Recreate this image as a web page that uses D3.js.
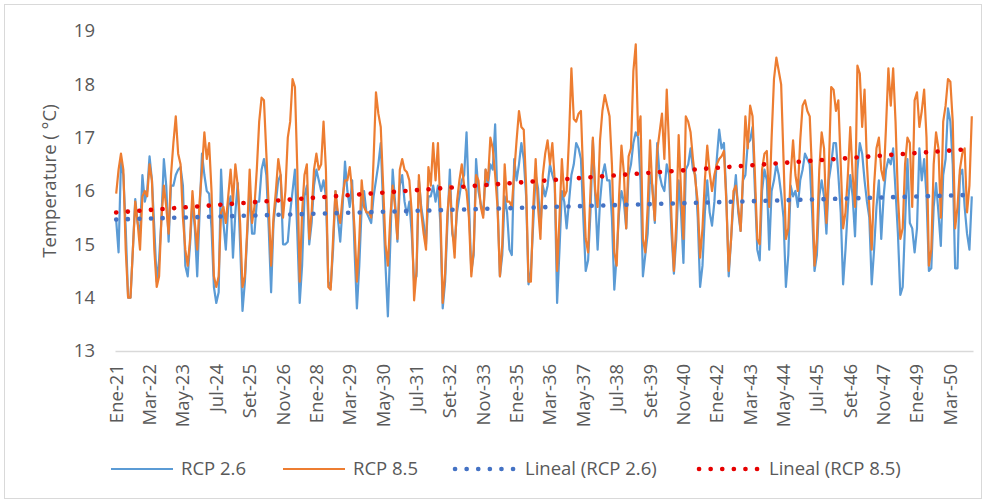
<!DOCTYPE html>
<html lang="en">
  <head>
    <meta charset="UTF-8" />
    <title>Temperature RCP</title>
    <script src="https://d3js.org/d3.v7.min.js"></script>
    <style>
      body { margin: 0; background: #fff; }
      svg { display: block; font-family: "Open Sans", sans-serif; }
    </style>
  </head>
  <body>
    <svg></svg>
    <script>
      // monthly values, Ene-21 ... Dic-50 (12 per row)
      let rcp26 = [
        15.45,14.85,16.55,16.3,15.3,14.0,14.0,14.9,15.85,15.4,15.2,16.3,
        15.8,16.0,16.65,16.2,15.3,14.3,14.7,15.5,16.6,16.1,15.05,16.1,
        16.1,16.3,16.4,16.45,16.1,14.6,14.4,15.0,15.8,15.3,14.4,15.6,
        16.7,16.3,16.0,15.95,15.3,14.2,13.9,14.1,16.4,15.4,14.9,15.7,
        15.9,14.75,15.6,16.15,15.0,13.75,14.3,15.2,16.0,15.2,15.2,15.8,
        15.8,16.4,16.6,16.3,15.3,14.1,15.4,15.8,16.2,16.3,15.0,15.0,
        15.05,15.6,16.0,16.4,15.2,13.9,14.6,15.9,16.1,15.0,15.4,16.1,
        16.4,16.2,16.0,16.2,15.9,14.3,14.2,14.9,16.0,15.5,15.05,15.7,
        16.55,16.0,15.7,16.2,14.9,13.8,14.6,15.7,16.0,15.6,15.5,15.4,
        15.9,16.2,16.5,16.9,15.7,14.6,13.65,15.0,16.4,15.8,15.05,16.1,
        16.3,15.8,15.55,15.8,15.2,14.3,14.4,16.2,15.7,15.4,15.0,15.9,
        15.9,16.1,15.8,16.1,15.4,13.8,14.3,15.4,16.4,15.2,15.0,15.6,
        15.9,16.2,16.3,17.1,15.8,14.5,14.8,16.6,16.0,15.75,15.55,16.4,
        16.1,16.5,16.4,17.25,15.8,14.4,14.8,15.9,15.6,14.9,14.8,16.6,
        16.2,16.5,16.9,16.6,15.9,14.25,14.5,15.4,16.3,16.05,15.3,16.1,
        15.9,16.1,16.5,16.3,16.15,13.9,14.9,16.0,15.8,15.3,15.8,16.3,
        16.5,16.9,16.8,16.6,15.5,14.5,14.7,15.6,16.95,15.9,14.9,15.8,
        16.3,16.5,16.2,16.2,15.5,14.15,14.8,15.6,16.0,15.8,15.3,16.3,
        16.5,16.9,17.1,17.0,16.2,14.4,14.8,15.2,16.3,16.1,15.4,16.9,
        16.3,16.1,16.0,16.5,16.3,15.2,14.45,15.1,16.2,15.6,14.65,16.4,
        16.5,16.8,16.4,16.3,15.5,14.2,14.6,15.6,16.2,15.6,15.35,15.8,
        16.6,17.15,16.8,16.9,15.9,14.4,15.1,15.8,16.3,15.6,15.25,16.2,
        16.3,16.9,16.95,17.2,16.0,14.9,14.7,16.0,16.4,16.2,14.9,16.0,
        16.2,16.5,16.3,15.95,15.5,14.2,14.8,16.1,15.9,16.0,15.7,16.2,
        16.4,16.7,16.6,16.5,15.6,14.5,14.8,15.9,16.2,15.9,15.2,16.2,
        16.5,16.9,16.9,16.3,15.6,14.25,14.9,15.7,16.3,15.9,15.15,16.4,
        16.9,16.7,16.2,15.8,15.5,14.25,14.9,15.7,16.2,15.1,15.9,16.4,
        16.6,16.5,16.8,16.0,15.2,14.05,14.2,15.4,16.6,15.4,15.3,14.85,
        15.3,16.8,16.2,16.6,15.9,14.5,14.55,15.7,16.15,15.6,14.97,16.3,
        16.6,17.55,17.3,16.5,14.55,14.55,16.3,16.4,15.7,15.2,14.9,15.9
      ];
      let rcp85 = [
        15.95,16.4,16.7,16.4,14.9,14.0,14.0,14.9,15.8,15.4,14.9,15.9,
        16.0,15.9,16.5,16.2,14.9,14.2,14.4,15.5,16.1,15.7,15.2,16.3,
        16.9,17.4,16.7,16.5,15.5,14.9,14.6,15.1,16.0,15.4,14.9,15.8,
        16.4,17.1,16.6,16.9,16.0,14.4,14.2,14.4,15.6,15.7,15.4,15.9,
        16.4,15.8,16.5,16.1,15.4,14.2,14.4,15.3,16.4,15.4,15.7,16.4,
        17.3,17.75,17.7,16.7,15.7,14.6,15.5,16.0,16.6,16.3,15.5,16.0,
        17.0,17.3,18.1,17.95,16.4,14.3,15.6,16.3,16.5,15.1,15.6,16.4,
        16.7,16.4,16.5,17.3,16.4,14.2,14.15,15.1,16.0,15.6,15.4,15.9,
        16.2,16.2,16.45,16.0,15.3,14.3,15.1,16.2,15.7,15.6,15.6,15.5,
        16.6,17.85,17.45,17.2,16.1,15.0,14.6,15.5,16.1,15.7,15.1,16.4,
        16.6,16.4,16.35,16.2,15.6,13.95,14.5,16.3,15.6,15.2,14.9,16.45,
        16.1,16.9,16.2,16.9,15.7,13.9,14.45,15.6,16.1,15.3,14.75,15.8,
        16.2,16.5,16.1,16.0,15.5,14.4,14.9,16.3,16.2,15.7,15.5,16.4,
        16.2,17.0,16.8,16.3,15.7,14.4,15.0,16.5,15.8,15.8,15.7,16.35,
        16.95,17.5,17.2,17.15,16.1,14.3,14.3,15.7,16.6,15.7,15.1,16.3,
        16.7,16.95,16.5,16.9,16.2,14.5,15.5,16.6,15.9,16.0,17.0,18.3,
        17.35,17.3,17.45,17.5,16.2,15.1,14.85,16.0,17.0,16.0,15.7,16.95,
        17.5,17.8,17.6,17.4,16.5,14.85,14.6,15.9,16.85,16.35,15.3,16.65,
        16.8,18.25,18.75,17.05,17.4,15.1,14.85,15.7,16.95,16.0,15.45,16.75,
        17.1,17.45,16.6,17.9,16.8,15.5,14.5,15.4,17.05,16.0,15.1,17.4,
        17.3,17.1,16.6,16.2,15.8,14.75,15.3,16.2,16.85,16.35,16.0,16.3,
        16.5,16.6,16.65,16.75,15.8,14.5,15.1,16.0,16.1,15.7,15.25,16.3,
        17.4,16.8,17.6,17.4,16.3,15.1,15.0,16.4,16.7,16.75,15.7,17.0,
        18.1,18.5,18.25,18.0,16.6,15.1,15.3,16.3,16.95,16.3,16.0,16.95,
        17.6,17.7,17.5,17.4,16.3,14.6,15.1,16.4,17.1,16.8,15.4,16.4,
        17.95,17.9,17.5,17.7,16.5,15.3,15.6,16.3,17.2,16.3,15.7,18.35,
        18.2,17.2,17.9,16.5,15.7,14.9,16.1,16.8,17.0,16.4,16.2,17.2,
        18.3,17.6,18.3,17.3,15.9,15.1,15.3,16.5,17.0,16.9,15.7,17.7,
        17.85,17.2,17.5,17.9,17.0,14.6,14.9,16.5,17.1,16.8,15.5,17.3,
        17.6,18.1,18.05,17.3,15.3,15.7,16.4,16.7,16.8,15.6,16.1,17.4
      ];
      let monthNames = ["Ene","Feb","Mar","Abr","May","Jun","Jul","Ago","Set","Oct","Nov","Dic"];
      let years = d3.range(2021, 2051);
      let yTicks = [13, 14, 15, 16, 17, 18, 19];
      let seriesNames = ["RCP 2.6", "RCP 8.5", "Lineal (RCP 2.6)", "Lineal (RCP 8.5)"];

      let categories = [];
      years.forEach((yr) => {
        monthNames.forEach((m) => categories.push(m + "-" + String(yr).slice(2)));
      });

      let width = 986,
        height = 503;
      let svg = d3.select("svg").attr("width", width).attr("height", height);

      // chart frame
      svg
        .append("rect")
        .attr("x", 4.5)
        .attr("y", 4.5)
        .attr("width", width - 9)
        .attr("height", height - 9)
        .attr("fill", "#fff")
        .attr("stroke", "#d9d9d9");

      let x = d3.scaleBand().domain(categories).range([115, 973]);
      let y = d3.scaleLinear().domain([13, 19]).range([351, 31]);
      let cx = (c) => x(c) + x.bandwidth() / 2;

      // y axis (labels only)
      let yAxis = svg
        .append("g")
        .attr("transform", "translate(115,0)")
        .call(
          d3
            .axisLeft(y)
            .tickValues(yTicks)
            .tickFormat(d3.format("d"))
            .tickSize(0)
            .tickPadding(20)
        );
      yAxis.select(".domain").remove();
      yAxis
        .selectAll("text")
        .attr("font-size", "18.5px")
        .attr("font-family", "Open Sans")
        .attr("fill", "#595959");

      // x axis
      let xAxis = svg
        .append("g")
        .attr("transform", "translate(0,351)")
        .call(
          d3
            .axisBottom(x)
            .tickValues(categories.filter((d, i) => i % 14 == 0))
            .tickSize(0)
        );
      xAxis.select(".domain").attr("stroke", "#d9d9d9").attr("stroke-width", 1.3);
      xAxis
        .selectAll("text")
        .attr("font-size", "18.5px")
        .attr("font-family", "Open Sans")
        .attr("fill", "#595959")
        .attr("text-anchor", "end")
        .attr("transform", "translate(0,13) rotate(-90)")
        .attr("x", 0)
        .attr("y", 0)
        .attr("dy", "0.35em");

      // axis title
      svg
        .append("text")
        .attr("transform", "translate(50,181) rotate(-90)")
        .attr("text-anchor", "middle")
        .attr("dy", "0.35em")
        .attr("font-size", "18.5px")
        .attr("fill", "#595959")
        .text("Temperature ( °C)");

      let line = d3
        .line()
        .x((d, i) => cx(categories[i]))
        .y((d) => y(d));

      svg
        .append("path")
        .datum(rcp26)
        .attr("fill", "none")
        .attr("stroke", "#5B9BD5")
        .attr("stroke-width", 2.2)
        .attr("stroke-linejoin", "round")
        .attr("d", line);

      svg
        .append("path")
        .datum(rcp85)
        .attr("fill", "none")
        .attr("stroke", "#ED7D31")
        .attr("stroke-width", 2.2)
        .attr("stroke-linejoin", "round")
        .attr("d", line);

      // linear trend (least squares over month index)
      function trend(vals) {
        let n = vals.length;
        let mx = d3.mean(d3.range(n));
        let my = d3.mean(vals);
        let sxy = d3.sum(vals, (v, i) => (i - mx) * (v - my));
        let sxx = d3.sum(d3.range(n), (i) => (i - mx) * (i - mx));
        let b = sxy / sxx;
        let a = my - b * mx;
        return [0, n - 1].map((i) => ({ i: i, v: a + b * i }));
      }

      let trendLine = d3
        .line()
        .x((d) => cx(categories[d.i]))
        .y((d) => y(d.v));

      [
        [rcp26, "#4472C4"],
        [rcp85, "#E60000"],
      ].forEach(([vals, col]) => {
        svg
          .append("path")
          .datum(trend(vals))
          .attr("fill", "none")
          .attr("stroke", col)
          .attr("stroke-width", 4.6)
          .attr("stroke-linecap", "round")
          .attr("stroke-dasharray", "0.1 11.5")
          .attr("d", trendLine);
      });

      // legend
      let legendItems = [
        { name: seriesNames[0], color: "#5B9BD5", dotted: false, x0: 111 },
        { name: seriesNames[1], color: "#ED7D31", dotted: false, x0: 283 },
        { name: seriesNames[2], color: "#4472C4", dotted: true, x0: 455 },
        { name: seriesNames[3], color: "#E60000", dotted: true, x0: 699 },
      ];
      let legend = svg
        .append("g")
        .selectAll("g")
        .data(legendItems)
        .enter()
        .append("g")
        .attr("transform", (d) => "translate(" + d.x0 + ",469)");
      legend
        .append("line")
        .attr("x1", 0)
        .attr("x2", (d) => (d.dotted ? 60 : 62))
        .attr("stroke", (d) => d.color)
        .attr("stroke-width", (d) => (d.dotted ? 4.6 : 2.2))
        .attr("stroke-linecap", (d) => (d.dotted ? "round" : "butt"))
        .attr("stroke-dasharray", (d) => (d.dotted ? "0.1 11.5" : null));
      legend
        .append("text")
        .attr("x", 70)
        .attr("dy", "0.35em")
        .attr("font-size", "18.5px")
        .attr("fill", "#595959")
        .text((d) => d.name);
    </script>
  </body>
</html>
